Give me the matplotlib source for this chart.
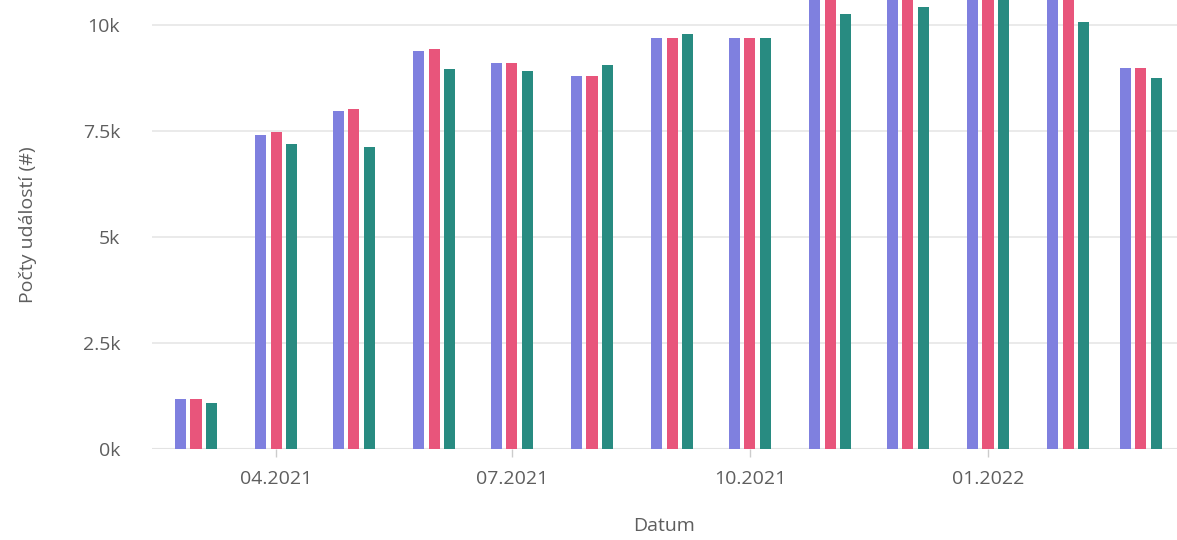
import datetime as dt
import numpy as np
import matplotlib.pyplot as plt
import matplotlib.dates as mdates
from matplotlib.ticker import FuncFormatter

# data (monthly counts, three series)
months = ["2021-03", "2021-04", "2021-05", "2021-06", "2021-07", "2021-08", "2021-09",
          "2021-10", "2021-11", "2021-12", "2022-01", "2022-02", "2022-03"]
series_a = [1180, 7410, 7970, 9390, 9110, 8800, 9690, 9690, 11000, 10950, 11500, 10900, 8990]
series_b = [1180, 7480, 8020, 9430, 9110, 8800, 9690, 9690, 11050, 11000, 11500, 10950, 8990]
series_c = [1080, 7200, 7130, 8960, 8920, 9060, 9780, 9690, 10260, 10420, 11200, 10060, 8740]
colors = ["#7f80df", "#e8557b", "#288b81"]

tick_dates = ["2021-04", "2021-07", "2021-10", "2022-01"]

plt.rcParams['font.family'] = ['Open Sans', 'DejaVu Sans']

fig = plt.figure(figsize=(11.77, 5.40), dpi=100)
ax = fig.add_axes([152 / 1177, 91 / 540, 1 - 152 / 1177, 449 / 540])

x = mdates.date2num([dt.datetime.strptime(m, "%Y-%m") for m in months])
width = 4.3
offset = 6.0
for i, vals in enumerate([series_a, series_b, series_c]):
    ax.bar(x + (i - 1) * offset, vals, width=width, color=colors[i], zorder=3)

ax.set_ylim(0, 10590)
ax.set_xlim(mdates.date2num(dt.datetime(2021, 2, 12)), mdates.date2num(dt.datetime(2022, 3, 15)))

ax.set_yticks([0, 2500, 5000, 7500, 10000])
ax.yaxis.set_major_formatter(FuncFormatter(lambda v, p: f"{v / 1000:g}k"))
ax.grid(axis="y", color="#e6e6e6", linewidth=1.2, zorder=0)
ax.axhline(0, color="#d8d8d8", linewidth=1.5, zorder=1)

ticks = mdates.date2num([dt.datetime.strptime(t, "%Y-%m") for t in tick_dates])
ax.set_xticks(ticks)
ax.set_xticklabels([dt.datetime.strptime(t, "%Y-%m").strftime("%m.%Y") for t in tick_dates])

for s in ax.spines.values():
    s.set_visible(False)
ax.tick_params(axis="y", length=0, pad=23, labelsize=14, labelcolor="#5e5e5e")
ax.tick_params(axis="x", length=6, width=1, color="#cccccc", pad=9, labelsize=14, labelcolor="#5e5e5e")

ax.set_xlabel("Datum", fontsize=14, color="#5e5e5e", labelpad=21)
ax.set_ylabel("Počty událostí (#)", fontsize=14, color="#5e5e5e", labelpad=33)

fig.savefig("out.png", dpi=100)
